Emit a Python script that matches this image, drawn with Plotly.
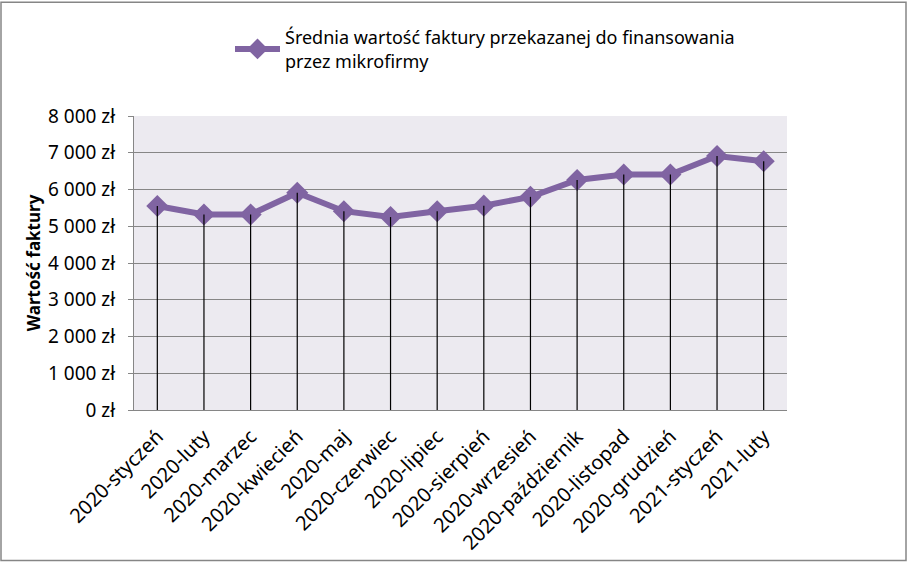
import plotly.graph_objects as go

categories = ["2020-styczeń", "2020-luty", "2020-marzec", "2020-kwiecień", "2020-maj",
              "2020-czerwiec", "2020-lipiec", "2020-sierpień", "2020-wrzesień",
              "2020-październik", "2020-listopad", "2020-grudzień", "2021-styczeń", "2021-luty"]
values = [5550, 5320, 5320, 5910, 5410, 5250, 5410, 5560, 5800, 6260, 6410, 6410, 6910, 6770]
series_name = "Średnia wartość faktury przekazanej do finansowania<br>przez mikrofirmy"
ytick_vals = [0, 1000, 2000, 3000, 4000, 5000, 6000, 7000, 8000]
ytick_text = ["0 zł", "1 000 zł", "2 000 zł", "3 000 zł", "4 000 zł",
              "5 000 zł", "6 000 zł", "7 000 zł", "8 000 zł"]

W, H = 908, 567
ml, mr, mt, mb = 134, 121, 116, 154
pw, ph = W - ml - mr, H - mt - mb

FONT = "Noto Sans"
purple = "#8064A2"

fig = go.Figure()
fig.add_trace(go.Scatter(
    x=categories, y=values, mode="lines+markers", name=series_name,
    line=dict(color=purple, width=6),
    marker=dict(symbol="diamond", size=17, color=purple),
))
fig.add_trace(go.Scatter(
    x=categories, y=values, mode="markers", showlegend=False, hoverinfo="skip",
    marker=dict(size=1, opacity=0),
    error_y=dict(type="data", symmetric=False, array=[0] * len(values),
                 arrayminus=values, width=0, color="black", thickness=1.2),
))

fig.update_layout(
    width=W, height=H,
    margin=dict(l=ml, r=mr, t=mt, b=mb),
    paper_bgcolor="white", plot_bgcolor="#ECEAF0",
    font=dict(family=FONT, size=17, color="black"),
    showlegend=True,
    legend=dict(x=(230 - ml) / pw, y=(mt + ph - 18) / ph, xanchor="left", yanchor="top",
                font=dict(family=FONT, size=18), bgcolor="rgba(0,0,0,0)",
                itemwidth=45, tracegroupgap=0),
    xaxis=dict(type="category", range=[-0.5, len(categories) - 0.5],
               tickangle=-45, showgrid=False, showline=True, linecolor="#868686",
               ticks="", tickfont=dict(family=FONT, size=20), zeroline=False,
               ticklabelstandoff=6),
    yaxis=dict(range=[0, 8000], tickvals=ytick_vals, ticktext=ytick_text,
               showgrid=True, gridcolor="#868686", gridwidth=1,
               showline=True, linecolor="#868686", ticks="outside", ticklen=5,
               tickcolor="#868686", tickfont=dict(family=FONT, size=19),
               ticklabelstandoff=9,
               zeroline=False,
               title=dict(text="<b>Wartość faktury</b>", font=dict(family=FONT, size=17), standoff=3)),
    shapes=[dict(type="rect", xref="paper", yref="paper",
                 x0=(1 - ml) / pw, x1=(W - 2 - ml) / pw,
                 y0=-(mb - 2) / ph, y1=(ph + mt - 1) / ph,
                 line=dict(color="#868686", width=1.5), fillcolor="rgba(0,0,0,0)", layer="below")],
)

fig.write_html("out.html")
